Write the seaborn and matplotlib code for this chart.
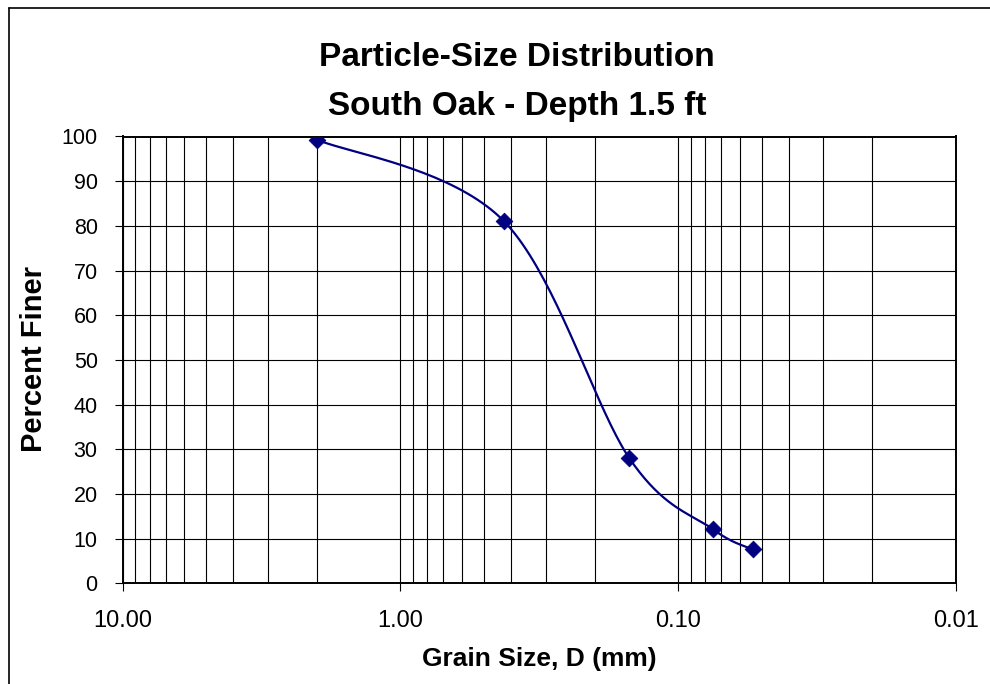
import numpy as np
import pandas as pd
import matplotlib
matplotlib.use("Agg")
import matplotlib.pyplot as plt
from matplotlib.ticker import LogLocator, FixedLocator, FixedFormatter, NullFormatter
from matplotlib.lines import Line2D
import seaborn as sns

# ---------------- data ----------------
grain_size_mm = [2.0, 0.425, 0.15, 0.075, 0.054]
percent_finer = [99.3, 81.1, 28.0, 12.1, 7.6]
x_major_ticks = [10.0, 1.0, 0.1, 0.01]
x_tick_labels = ["10.00", "1.00", "0.10", "0.01"]
y_ticks = list(range(0, 101, 10))
title_line1 = "Particle-Size Distribution"
title_line2 = "South Oak - Depth 1.5 ft"
x_label = "Grain Size, D (mm)"
y_label = "Percent Finer"

NAVY = "#000080"


def smooth_curve(xs, ys, n=40):
    """Excel-like smoothed line (Catmull-Rom Bezier) in log-x / linear-y space."""
    P = np.column_stack([np.log10(np.asarray(xs, float)), np.asarray(ys, float)])
    m = len(P)
    parts = []
    for i in range(m - 1):
        p0 = P[max(i - 1, 0)]
        p1 = P[i]
        p2 = P[i + 1]
        p3 = P[min(i + 2, m - 1)]
        b1 = p1 + (p2 - p0) / 6.0
        b2 = p2 - (p3 - p1) / 6.0
        t = np.linspace(0, 1, n, endpoint=(i == m - 2))[:, None]
        seg = ((1 - t) ** 3) * p1 + 3 * ((1 - t) ** 2) * t * b1 + 3 * (1 - t) * (t ** 2) * b2 + (t ** 3) * p2
        parts.append(seg)
    c = np.vstack(parts)
    return 10 ** c[:, 0], c[:, 1]


sns.set_style("white")
plt.rcParams["font.family"] = ["Liberation Sans", "DejaVu Sans"]
plt.rcParams["text.color"] = "black"

fig = plt.figure(figsize=(9.9, 6.84), dpi=100)
fig.patch.set_facecolor("white")

W, H = 990.0, 684.0
left, right, top, bottom = 122.7, 956.0, 136.5, 583.3
ax = fig.add_axes([left / W, 1 - bottom / H, (right - left) / W, (bottom - top) / H])
ax.set_xscale("log")

cx, cy = smooth_curve(grain_size_mm, percent_finer)
curve_df = pd.DataFrame({"size": cx, "finer": cy})
pts_df = pd.DataFrame({"size": grain_size_mm, "finer": percent_finer})

sns.lineplot(data=curve_df, x="size", y="finer", sort=False, estimator=None,
             color=NAVY, linewidth=1.6, ax=ax, zorder=3)
sns.scatterplot(data=pts_df, x="size", y="finer", marker="D", s=72,
                color=NAVY, edgecolor=NAVY, linewidth=0.6, ax=ax, zorder=4)

ax.set_xlim(10, 0.01)
ax.set_ylim(0, 100)

ax.xaxis.set_major_locator(FixedLocator(x_major_ticks))
ax.xaxis.set_major_formatter(FixedFormatter(x_tick_labels))
ax.xaxis.set_minor_locator(LogLocator(base=10, subs=np.arange(2, 10), numticks=20))
ax.xaxis.set_minor_formatter(NullFormatter())
ax.yaxis.set_major_locator(FixedLocator(y_ticks))

ax.grid(which="major", axis="both", color="black", linewidth=0.8, zorder=1)
ax.grid(which="minor", axis="x", color="black", linewidth=0.8, zorder=1)
ax.set_axisbelow(True)

ax.tick_params(axis="x", which="major", direction="out", length=6, width=0.8,
               pad=13, labelsize=17, colors="black", bottom=True)
ax.tick_params(axis="x", which="minor", length=0, bottom=False)
ax.tick_params(axis="y", which="major", direction="out", length=6, width=0.8,
               pad=12, labelsize=15.5, colors="black", left=True)

for sp in ax.spines.values():
    sp.set_color("black")
    sp.set_linewidth(1.4)

ax.set_xlabel("")
ax.set_ylabel("")

fig.text(539.4 / W, 1 - 659 / H, x_label, ha="center", va="center",
         fontsize=19, fontweight="bold", color="black")
fig.text(34 / W, 1 - 359 / H, y_label, ha="center", va="center", rotation=90,
         fontsize=21, fontweight="bold", color="black")
fig.text(517 / W, 1 - 58 / H, title_line1, ha="center", va="center",
         fontsize=24, fontweight="bold", color="black")
fig.text(517 / W, 1 - 107 / H, title_line2, ha="center", va="center",
         fontsize=24, fontweight="bold", color="black")

# outer chart-area border (top and left visible in the crop)
fig.add_artist(Line2D([9.3 / W, 1.0], [1 - 8 / H, 1 - 8 / H], transform=fig.transFigure,
                      color="black", linewidth=1.2))
fig.add_artist(Line2D([9.3 / W, 9.3 / W], [1 - 8 / H, 0.0], transform=fig.transFigure,
                      color="black", linewidth=1.2))

fig.savefig("out.png", dpi=100, facecolor="white")
